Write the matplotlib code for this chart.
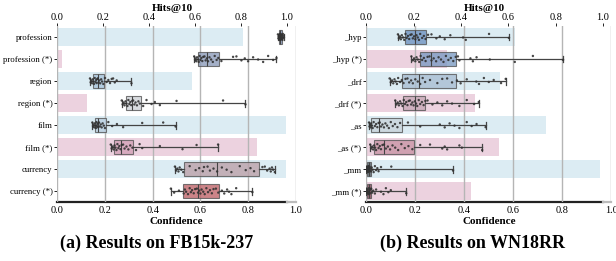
import numpy as np
import matplotlib
matplotlib.use("Agg")
import matplotlib.pyplot as plt

plt.rcParams['font.family'] = ['Liberation Serif', 'DejaVu Serif']

# ---------------- FB15k-237 ----------------
fb_labels = ['profession', 'profession (*)', 'region', 'region (*)',
             'film', 'film (*)', 'currency', 'currency (*)']
fb_hits = [0.811, 0.022, 0.589, 0.131, 0.995, 0.872, 0.995, 0.003]

fb_q1 = [0.930, 0.588, 0.151, 0.288, 0.158, 0.239, 0.532, 0.529]
fb_med = [0.935, 0.627, 0.169, 0.314, 0.172, 0.265, 0.670, 0.590]
fb_q3 = [0.941, 0.680, 0.196, 0.349, 0.203, 0.316, 0.845, 0.677]
fb_lo = [0.925, 0.574, 0.137, 0.270, 0.147, 0.224, 0.493, 0.476]
fb_hi = [0.950, 0.919, 0.311, 0.789, 0.496, 0.674, 0.912, 0.818]

fb_points = [
    [0.925, 0.927, 0.928, 0.93, 0.931, 0.932, 0.933, 0.934, 0.935, 0.935, 0.936, 0.937,
     0.938, 0.939, 0.94, 0.941, 0.942, 0.943, 0.944, 0.946, 0.948, 0.95, 0.933, 0.938],
    [0.574, 0.578, 0.58, 0.583, 0.586, 0.59, 0.593, 0.597, 0.6, 0.604, 0.608, 0.612, 0.617,
     0.622, 0.627, 0.632, 0.638, 0.645, 0.652, 0.66, 0.668, 0.675, 0.688, 0.737, 0.751,
     0.772, 0.786, 0.8, 0.821, 0.842, 0.863, 0.884, 0.905, 0.919],
    [0.137, 0.14, 0.143, 0.146, 0.149, 0.152, 0.154, 0.157, 0.16, 0.163, 0.165, 0.168, 0.17,
     0.173, 0.176, 0.18, 0.184, 0.188, 0.193, 0.2, 0.207, 0.214, 0.221, 0.228, 0.234, 0.241,
     0.249, 0.311],
    [0.27, 0.274, 0.278, 0.282, 0.286, 0.29, 0.294, 0.298, 0.302, 0.306, 0.31, 0.314, 0.318,
     0.323, 0.328, 0.334, 0.34, 0.346, 0.36, 0.374, 0.395, 0.409, 0.43, 0.5, 0.695, 0.789],
    [0.147, 0.15, 0.152, 0.155, 0.157, 0.16, 0.162, 0.164, 0.166, 0.168, 0.17, 0.172, 0.175,
     0.178, 0.182, 0.186, 0.19, 0.195, 0.2, 0.214, 0.23, 0.25, 0.276, 0.356, 0.444, 0.496],
    [0.224, 0.228, 0.232, 0.236, 0.24, 0.244, 0.248, 0.252, 0.256, 0.26, 0.265, 0.27, 0.276,
     0.282, 0.29, 0.298, 0.306, 0.315, 0.33, 0.345, 0.356, 0.43, 0.525, 0.584, 0.674],
    [0.493, 0.498, 0.503, 0.508, 0.513, 0.52, 0.528, 0.555, 0.58, 0.595, 0.61, 0.615, 0.63,
     0.64, 0.655, 0.67, 0.69, 0.71, 0.73, 0.765, 0.79, 0.81, 0.825, 0.86, 0.87, 0.88, 0.89,
     0.895, 0.9, 0.905, 0.912],
    [0.476, 0.49, 0.51, 0.53, 0.535, 0.54, 0.548, 0.555, 0.56, 0.565, 0.572, 0.578, 0.585,
     0.59, 0.595, 0.6, 0.605, 0.612, 0.618, 0.625, 0.632, 0.64, 0.648, 0.655, 0.665, 0.675,
     0.69, 0.7, 0.712, 0.72, 0.73, 0.75, 0.818],
]
fb_box_colors = ['#7f90b3', '#8e9dbb', '#a9c4da', '#cfd2d8',
                 '#b9cfe0', '#d3a2b8', '#bca2aa', '#c0666a']

# ---------------- WN18RR ----------------
wn_labels = ['_hyp', '_hyp (*)', '_drf', '_drf (*)',
             '_as', '_as (*)', '_mm', '_mm (*)']
wn_hits = [0.627, 0.343, 0.564, 0.46, 0.758, 0.561, 0.989, 0.441]

wn_q1 = [0.157, 0.218, 0.146, 0.150, 0.020, 0.031, 0.004, 0.004]
wn_med = [0.200, 0.265, 0.215, 0.200, 0.052, 0.071, 0.010, 0.012]
wn_q3 = [0.245, 0.367, 0.367, 0.241, 0.147, 0.193, 0.020, 0.020]
wn_lo = [0.129, 0.184, 0.095, 0.118, 0.011, 0.016, 0.000, 0.000]
wn_hi = [0.582, 0.803, 0.569, 0.459, 0.487, 0.473, 0.354, 0.163]

wn_points = [
    [0.129, 0.133, 0.137, 0.141, 0.145, 0.15, 0.155, 0.16, 0.165, 0.17, 0.175, 0.18, 0.185,
     0.19, 0.195, 0.2, 0.205, 0.21, 0.215, 0.22, 0.228, 0.235, 0.242, 0.252, 0.266, 0.286,
     0.3, 0.32, 0.343, 0.395, 0.406, 0.501, 0.582],
    [0.184, 0.19, 0.195, 0.2, 0.205, 0.21, 0.216, 0.222, 0.228, 0.235, 0.242, 0.25, 0.258,
     0.266, 0.275, 0.285, 0.295, 0.305, 0.315, 0.325, 0.335, 0.345, 0.355, 0.365, 0.374,
     0.38, 0.425, 0.435, 0.45, 0.504, 0.606, 0.68, 0.803],
    [0.095, 0.1, 0.105, 0.11, 0.115, 0.12, 0.125, 0.13, 0.138, 0.145, 0.152, 0.16, 0.168,
     0.175, 0.183, 0.19, 0.2, 0.21, 0.22, 0.23, 0.24, 0.26, 0.29, 0.31, 0.33, 0.35, 0.37,
     0.385, 0.41, 0.449, 0.46, 0.48, 0.5, 0.52, 0.55, 0.569],
    [0.118, 0.123, 0.128, 0.133, 0.138, 0.143, 0.148, 0.153, 0.158, 0.163, 0.168, 0.173,
     0.178, 0.183, 0.188, 0.193, 0.198, 0.203, 0.208, 0.214, 0.22, 0.227, 0.234, 0.241,
     0.25, 0.27, 0.29, 0.31, 0.33, 0.35, 0.38, 0.41, 0.44, 0.459],
    [0.011, 0.013, 0.015, 0.018, 0.02, 0.023, 0.026, 0.03, 0.035, 0.04, 0.045, 0.05, 0.055,
     0.06, 0.066, 0.072, 0.078, 0.085, 0.092, 0.1, 0.108, 0.117, 0.127, 0.138, 0.17, 0.22,
     0.3, 0.32, 0.34, 0.36, 0.38, 0.41, 0.43, 0.45, 0.487],
    [0.016, 0.02, 0.024, 0.028, 0.032, 0.036, 0.04, 0.045, 0.05, 0.055, 0.06, 0.066, 0.072,
     0.08, 0.088, 0.097, 0.107, 0.118, 0.13, 0.143, 0.157, 0.172, 0.188, 0.22, 0.26, 0.31,
     0.32, 0.33, 0.38, 0.39, 0.473],
    [0.0, 0.002, 0.003, 0.004, 0.005, 0.006, 0.007, 0.008, 0.009, 0.01, 0.011, 0.012, 0.013,
     0.015, 0.017, 0.019, 0.022, 0.026, 0.03, 0.035, 0.04, 0.045, 0.05, 0.06, 0.102, 0.354],
    [0.0, 0.002, 0.004, 0.005, 0.006, 0.008, 0.01, 0.011, 0.012, 0.014, 0.016, 0.018, 0.02,
     0.024, 0.028, 0.035, 0.04, 0.06, 0.07, 0.08, 0.09, 0.1, 0.163],
]
wn_box_colors = ['#6f93c2', '#7d9cc4', '#a9bed3', '#c8a9b8',
                 '#c8d4da', '#c995a6', '#5d6670', '#8a4f5f']

bar_colors = ['#dcecf3', '#ecd2df'] * 4
jitter = [-0.12, 0.06, -0.03, 0.10, -0.08, 0.02, 0.13, -0.14, 0.04, -0.05, 0.09, -0.10]
tick_text = ['0.0', '0.2', '0.4', '0.6', '0.8', '1.0']

W, H = 616, 261
fig = plt.figure(figsize=(W / 100, H / 100), dpi=100)
fig.patch.set_facecolor('white')


def panel(x0, box_w, bar_w, labels, hits, q1, med, q3, lo, hi, points, colors, caption, cap_x):
    bottom = (H - 202.3) / H
    height = (202.3 - 26) / H
    ax_bar = fig.add_axes([x0 / W, bottom, bar_w / W, height])
    ax_box = fig.add_axes([x0 / W, bottom, box_w / W, height], zorder=3)
    ax_box.patch.set_alpha(0)

    y = np.arange(len(labels))
    ax_bar.barh(y, hits, height=0.8, color=bar_colors, zorder=1)
    ax_bar.set_xlim(0, 1)
    ax_bar.set_ylim(len(labels) - 0.5, -0.5)
    ax_bar.xaxis.tick_top()
    ax_bar.xaxis.set_label_position('top')
    ax_bar.set_xticks(np.arange(0, 1.01, 0.2))
    ax_bar.set_xticklabels(tick_text, fontsize=7.5)
    ax_bar.set_xlabel('Hits@10', fontsize=8, fontweight='bold', labelpad=1)
    ax_bar.set_yticks(y)
    ax_bar.set_yticklabels(labels, fontsize=6.3)
    ax_bar.tick_params(axis='x', length=2, width=0.6, pad=1)
    ax_bar.tick_params(axis='y', length=2, width=0.6, pad=1.5)
    for s in ['left', 'right', 'top']:
        ax_bar.spines[s].set_visible(False)
    ax_bar.spines['bottom'].set_color('#222222')
    ax_bar.spines['bottom'].set_linewidth(1.6)

    stats = []
    for i in range(len(labels)):
        stats.append(dict(q1=q1[i], med=med[i], q3=q3[i], whislo=lo[i], whishi=hi[i], fliers=[]))
    bp = ax_box.bxp(stats, positions=y, widths=0.62, orientation='horizontal',
                    patch_artist=True, showfliers=False,
                    boxprops=dict(edgecolor='#555555', linewidth=0.8),
                    medianprops=dict(color='#444444', linewidth=0.8),
                    whiskerprops=dict(color='#444444', linewidth=0.9),
                    capprops=dict(color='#444444', linewidth=0.9), zorder=2)
    for patch, c in zip(bp['boxes'], colors):
        patch.set_facecolor(c)
        patch.set_alpha(0.8)
    for i, pts in enumerate(points):
        off = np.resize(jitter, len(pts))
        ax_box.scatter(pts, y[i] + off, s=3, color='#333333', edgecolor='none',
                       alpha=0.9, zorder=4)

    ax_box.set_xlim(0, 1)
    ax_box.set_ylim(len(labels) - 0.5, -0.5)
    ax_box.set_yticks([])
    ax_box.set_xticks(np.arange(0, 1.01, 0.2))
    ax_box.set_xticklabels(tick_text, fontsize=7.5)
    ax_box.tick_params(axis='x', length=0, pad=3)
    ax_box.set_xlabel('Confidence', fontsize=8, fontweight='bold', labelpad=1)
    ax_box.grid(axis='x', color='#b5b5b5', linewidth=1.0)
    ax_box.set_axisbelow(True)
    for s in ['left', 'right', 'top']:
        ax_box.spines[s].set_visible(False)
    ax_box.spines['bottom'].set_color('#bbbbbb')
    ax_box.spines['bottom'].set_linewidth(1.6)
    ax_box.spines['bottom'].set_bounds(bar_w / box_w, 1.0)

    fig.text(cap_x / W, 0.069, caption, ha='center', va='center',
             fontsize=13, fontweight='bold')


panel(57.3, 238.5, 229.4, fb_labels, fb_hits, fb_q1, fb_med, fb_q3, fb_lo, fb_hi,
      fb_points, fb_box_colors, '(a) Results on FB15k-237', 157)
panel(366.3, 245.0, 236.7, wn_labels, wn_hits, wn_q1, wn_med, wn_q3, wn_lo, wn_hi,
      wn_points, wn_box_colors, '(b) Results on WN18RR', 472)

fig.savefig('out.png', dpi=100)
